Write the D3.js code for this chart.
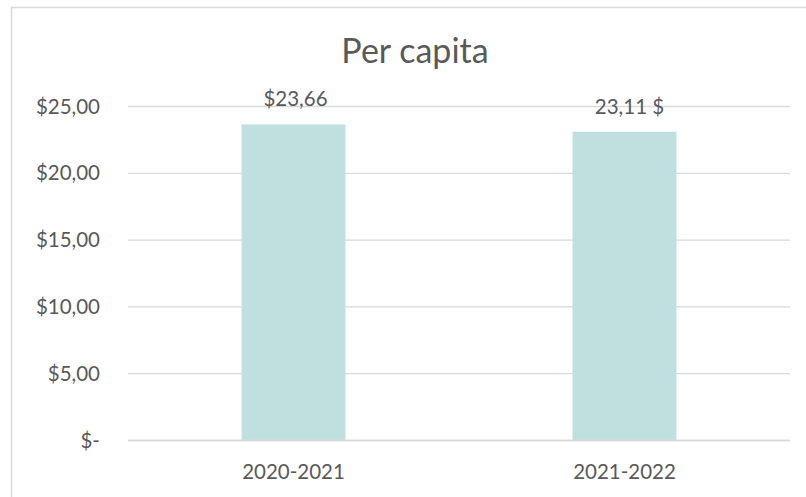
<!DOCTYPE html>
<html>
<head>
<meta charset="utf-8">
<script src="https://cdn.jsdelivr.net/npm/d3@7"></script>
<style>
  html, body { margin: 0; padding: 0; background: #ffffff; }
  svg { display: block; }
  text { font-family: Lato, "Open Sans", sans-serif; fill: #595959; }
</style>
</head>
<body>
<script>
const categories = ["2020-2021", "2021-2022"];
const values = [23.66, 23.11];
const valueLabels = ["$23,66", "23,11 $"];
const tickValues = [0, 5, 10, 15, 20, 25];
const tickLabels = ["$-", "$5,00", "$10,00", "$15,00", "$20,00", "$25,00"];
const title = "Per capita";

const W = 806, H = 497;
const svg = d3.select("body").append("svg").attr("width", W).attr("height", H);

// chart border (only top/left visible inside the frame)
svg.append("rect")
  .attr("x", 11.5).attr("y", 7.5)
  .attr("width", 820).attr("height", 520)
  .attr("fill", "none").attr("stroke", "#d9d9d9").attr("stroke-width", 1.5);

const plot = { left: 128, right: 790, top: 106.5, bottom: 440.5 };

const x = d3.scaleBand().domain(categories).range([plot.left, plot.right]).padding(0);
const y = d3.scaleLinear().domain([0, 25]).range([plot.bottom, plot.top]);
const barFrac = 0.314;

// gridlines
svg.append("g").selectAll("line").data(tickValues).join("line")
  .attr("x1", plot.left).attr("x2", plot.right)
  .attr("y1", d => y(d)).attr("y2", d => y(d))
  .attr("stroke", "#d9d9d9").attr("stroke-width", 1.3);

// y axis labels
const yAxis = d3.axisLeft(y).tickValues(tickValues)
  .tickFormat((d, i) => tickLabels[i]).tickSize(0).tickPadding(28);
const gy = svg.append("g").attr("transform", `translate(${plot.left},0)`).call(yAxis);
gy.select(".domain").remove();
gy.selectAll("text").style("font-family", "Lato, sans-serif").style("font-size", "20.5px").attr("fill", "#595959");

// bars
const bw = x.bandwidth() * barFrac;
svg.append("g").selectAll("rect").data(values).join("rect")
  .attr("x", (d, i) => x(categories[i]) + x.bandwidth() / 2 - bw / 2)
  .attr("width", bw)
  .attr("y", d => y(d))
  .attr("height", d => y(0) - y(d))
  .attr("fill", "#c0e0e0");

// baseline redraw on top
svg.append("line")
  .attr("x1", plot.left).attr("x2", plot.right)
  .attr("y1", y(0)).attr("y2", y(0))
  .attr("stroke", "#d9d9d9").attr("stroke-width", 1.3);

// value labels
svg.append("g").selectAll("text").data(values).join("text")
  .attr("x", (d, i) => x(categories[i]) + x.bandwidth() / 2 + (i === 1 ? 5 : 2))
  .attr("y", d => y(d) - 18)
  .attr("text-anchor", "middle")
  .style("font-size", "20.5px")
  .text((d, i) => valueLabels[i]);

// x axis labels
const xAxis = d3.axisBottom(x).tickSize(0).tickPadding(24);
const gx = svg.append("g").attr("transform", `translate(0,${plot.bottom})`).call(xAxis);
gx.select(".domain").remove();
gx.selectAll("text").style("font-family", "Lato, sans-serif").style("font-size", "20.5px").attr("fill", "#595959");

// title
svg.append("text")
  .attr("x", 415).attr("y", 63)
  .attr("text-anchor", "middle")
  .style("font-size", "34px")
  .text(title);
</script>
</body>
</html>
